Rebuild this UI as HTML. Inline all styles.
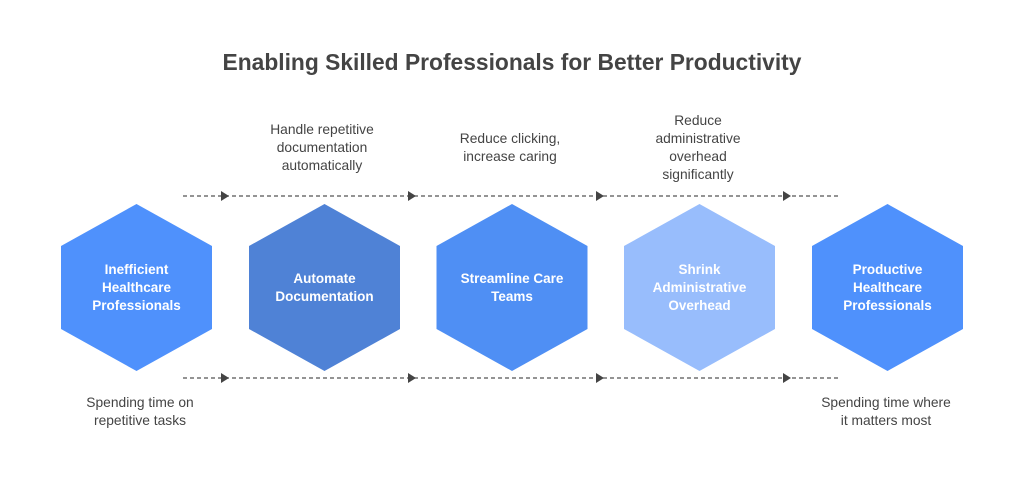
<!DOCTYPE html>
<html><head><style>
body{margin:0;background:#fff;width:1024px;height:487px;overflow:hidden;font-family:"Liberation Sans",Arial,sans-serif}
</style></head><body>
<svg width="1024" height="487" viewBox="0 0 1024 487" xmlns="http://www.w3.org/2000/svg" font-family="Liberation Sans, Arial, sans-serif">
<rect width="1024" height="487" fill="#fff"/>
<text x="512" y="70" text-anchor="middle" font-size="22.8" font-weight="bold" fill="#444">Enabling Skilled Professionals for Better Productivity</text>
<g stroke="#555" stroke-width="1.2" stroke-dasharray="4,3">
<line x1="183" y1="196" x2="840" y2="196"/>
<line x1="183" y1="378" x2="840" y2="378"/>
</g>
<g fill="#444">
<polygon points="221,191 229,196 221,201"/><polygon points="408,191 416,196 408,201"/><polygon points="596,191 604,196 596,201"/><polygon points="783,191 791,196 783,201"/>
<polygon points="221,373 229,378 221,383"/><polygon points="408,373 416,378 408,383"/><polygon points="596,373 604,378 596,383"/><polygon points="783,373 791,378 783,383"/>
</g>
<g>
<polygon points="136.5,204 212,246 212,329 136.5,371 61,329 61,246" fill="#4f91fc"/>
<polygon points="324.5,204 400,246 400,329 324.5,371 249,329 249,246" fill="#4f82d6"/>
<polygon points="512,204 587.5,246 587.5,329 512,371 436.5,329 436.5,246" fill="#4f8ff4"/>
<polygon points="699.5,204 775,246 775,329 699.5,371 624,329 624,246" fill="#98bdfc"/>
<polygon points="887.5,204 963,246 963,329 887.5,371 812,329 812,246" fill="#4f91fc"/>
</g>
<g fill="#fff" font-size="13.5" font-weight="bold" text-anchor="middle">
<text x="136.5" y="274">Inefficient</text><text x="136.5" y="292">Healthcare</text><text x="136.5" y="310">Professionals</text>
<text x="324.5" y="283">Automate</text><text x="324.5" y="301">Documentation</text>
<text x="512" y="283">Streamline Care</text><text x="512" y="301">Teams</text>
<text x="699.5" y="274">Shrink</text><text x="699.5" y="292">Administrative</text><text x="699.5" y="310">Overhead</text>
<text x="887.5" y="274">Productive</text><text x="887.5" y="292">Healthcare</text><text x="887.5" y="310">Professionals</text>
</g>
<g fill="#444" font-size="13.8" text-anchor="middle">
<text x="322" y="134">Handle repetitive</text><text x="322" y="152">documentation</text><text x="322" y="170">automatically</text>
<text x="510" y="143">Reduce clicking,</text><text x="510" y="161">increase caring</text>
<text x="698" y="125">Reduce</text><text x="698" y="143">administrative</text><text x="698" y="161">overhead</text><text x="698" y="179">significantly</text>
<text x="140" y="407">Spending time on</text><text x="140" y="425">repetitive tasks</text>
<text x="886" y="407">Spending time where</text><text x="886" y="425">it matters most</text>
</g>
</svg>
</body></html>
